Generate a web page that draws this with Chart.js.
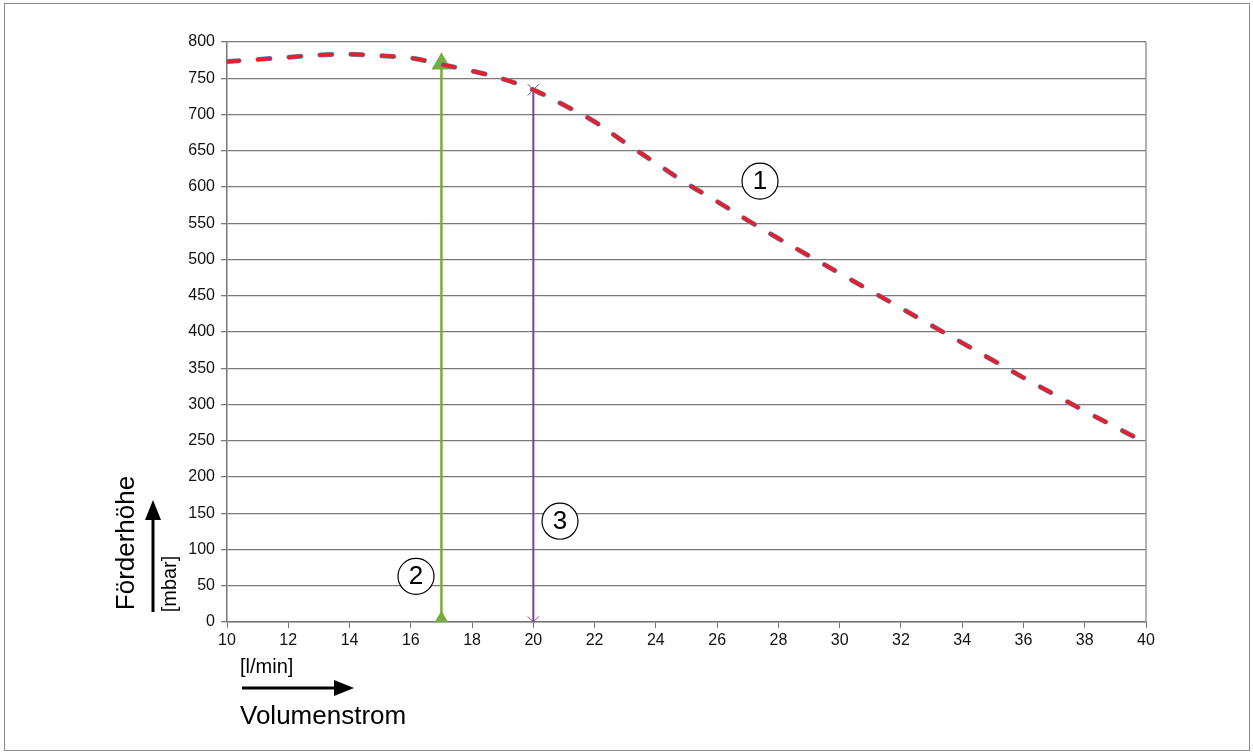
<!DOCTYPE html>
<html>
<head>
<meta charset="utf-8">
<script src="https://cdn.jsdelivr.net/npm/chart.js@4/dist/chart.umd.min.js"></script>
<style>
  html, body { margin: 0; padding: 0; background: #fff; }
  #wrap { width: 1253px; height: 754px; position: relative; }
</style>
</head>
<body>
<div id="wrap"><canvas id="pump"></canvas></div>
<script>
// Kennlinie: Volumenstrom [l/min] -> Förderhöhe [mbar]
const flow = [10, 11, 12, 13, 14, 15, 16, 17, 18, 19, 20, 21, 22, 23, 24, 25, 26, 27, 28, 29, 30, 31, 32, 33, 34, 35, 36, 37, 38, 39, 40];
const head = [773, 776, 779, 782, 783, 781, 778, 769, 760, 749, 734, 713, 690, 661, 633, 605, 580, 554, 529, 505, 481, 457, 433, 409, 385, 361, 337, 314, 291, 269, 247];

// Betriebspunkte (2) und (3)
const opFlow2 = [17, 17];
const opHead2 = [0, 770];
const opFlow3 = [20, 20];
const opHead3 = [0, 734];

// Kreis-Markierungen
const tagText = ['1', '2', '3'];
const tagFlow = [27.4, 16.17, 20.87];
const tagHead = [608, 63, 139];

const xTicks = [10, 12, 14, 16, 18, 20, 22, 24, 26, 28, 30, 32, 34, 36, 38, 40];

function pts(xs, ys) {
    return xs.map(function (x, i) { return { x: x, y: ys[i] }; });
}

const FONT = '"Liberation Sans", Arial, sans-serif';

const decor = {
    id: 'decor',
    beforeDraw: function (chart) {
        const c = chart.ctx;
        c.save();
        c.fillStyle = '#fff';
        c.fillRect(0, 0, chart.width, chart.height);
        c.strokeStyle = '#8a8a8a';
        c.lineWidth = 1;
        c.strokeRect(4.5, 3.5, 1245, 747);
        c.restore();
    },
    afterDraw: function (chart) {
        const c = chart.ctx;
        const xs = chart.scales.x, ys = chart.scales.y;
        const a = chart.chartArea;
        c.save();
        // rechter Rahmen
        c.strokeStyle = '#999';
        c.lineWidth = 1.5;
        c.beginPath();
        c.moveTo(a.right, a.top);
        c.lineTo(a.right, a.bottom);
        c.stroke();

        // Kreise mit Nummern
        c.strokeStyle = '#000';
        c.lineWidth = 1.2;
        c.font = '26px ' + FONT;
        c.textAlign = 'center';
        c.textBaseline = 'middle';
        tagText.forEach(function (t, i) {
            const px = xs.getPixelForValue(tagFlow[i]);
            const py = ys.getPixelForValue(tagHead[i]);
            c.beginPath();
            c.fillStyle = '#fff';
            c.arc(px, py, 18, 0, Math.PI * 2);
            c.fill();
            c.stroke();
            c.fillStyle = '#000';
            c.fillText(t, px, py + 1);
        });

        // y-Achsentitel
        c.fillStyle = '#000';
        c.save();
        c.translate(127, 543);
        c.rotate(-Math.PI / 2);
        c.font = '26px ' + FONT;
        c.fillText('Förderhöhe', 0, 0);
        c.restore();
        c.save();
        c.translate(170, 584);
        c.rotate(-Math.PI / 2);
        c.font = '20px ' + FONT;
        c.fillText('[mbar]', 0, 0);
        c.restore();
        // Pfeil nach oben
        c.lineWidth = 3;
        c.beginPath();
        c.moveTo(153, 612);
        c.lineTo(153, 518);
        c.stroke();
        c.beginPath();
        c.moveTo(153, 500);
        c.lineTo(145, 520);
        c.lineTo(161, 520);
        c.closePath();
        c.fill();

        // x-Achsentitel
        c.textAlign = 'left';
        c.textBaseline = 'alphabetic';
        c.font = '20px ' + FONT;
        c.fillText('[l/min]', 240, 673);
        c.font = '26px ' + FONT;
        c.fillText('Volumenstrom', 240, 724);
        c.beginPath();
        c.moveTo(242, 688);
        c.lineTo(336, 688);
        c.stroke();
        c.beginPath();
        c.moveTo(354, 688);
        c.lineTo(334, 680);
        c.lineTo(334, 696);
        c.closePath();
        c.fill();
        c.restore();
    }
};

new Chart(document.getElementById('pump'), {
    type: 'line',
    data: {
        datasets: [
            {
                label: 'Kennlinie rot',
                data: pts(flow, head),
                borderColor: '#e5202b',
                borderWidth: 4,
                borderDash: [12, 19],
                borderCapStyle: 'round',
                pointRadius: 0,
                tension: 0.4,
                order: 1
            },
            {
                label: 'Kennlinie blau',
                data: pts(flow, head),
                borderColor: '#3fa4dc',
                borderWidth: 5,
                borderDash: [12, 19],
                borderCapStyle: 'round',
                pointRadius: 0,
                tension: 0.4,
                order: 2
            },
            {
                label: 'Punkt 2',
                data: pts(opFlow2, opHead2),
                borderColor: '#77ad3f',
                backgroundColor: '#77ad3f',
                borderWidth: 2.5,
                pointStyle: 'triangle',
                pointRadius: 9,
                order: 3
            },
            {
                label: 'Punkt 3',
                data: pts(opFlow3, opHead3),
                borderColor: '#7d3f98',
                backgroundColor: '#7d3f98',
                borderWidth: 2,
                pointStyle: 'crossRot',
                pointRadius: 8,
                pointBorderWidth: 1,
                order: 3
            }
        ]
    },
    options: {
        responsive: true,
        maintainAspectRatio: false,
        animation: false,
        layout: { padding: { left: 0, top: 42, right: 107, bottom: 0 } },
        plugins: {
            legend: { display: false },
            tooltip: { enabled: false }
        },
        scales: {
            x: {
                type: 'linear',
                min: 10,
                max: 40,
                afterBuildTicks: function (s) { s.ticks = xTicks.map(function (v) { return { value: v }; }); },
                afterFit: function (s) { s.height = 132; },
                grid: { drawOnChartArea: false, drawTicks: true, tickLength: 6, color: '#777' },
                border: { color: '#777', width: 1.5 },
                ticks: { color: '#111', font: { family: FONT, size: 16 }, padding: 3, maxRotation: 0 }
            },
            y: {
                min: 0,
                max: 800,
                afterFit: function (s) { s.width = 227; },
                grid: { color: '#7a7a7a', lineWidth: 1.3, drawTicks: true, tickLength: 6 },
                border: { color: '#777', width: 1.5 },
                ticks: { stepSize: 50, color: '#111', font: { family: FONT, size: 16 }, padding: 6 }
            }
        }
    },
    plugins: [decor]
});
</script>
</body>
</html>
